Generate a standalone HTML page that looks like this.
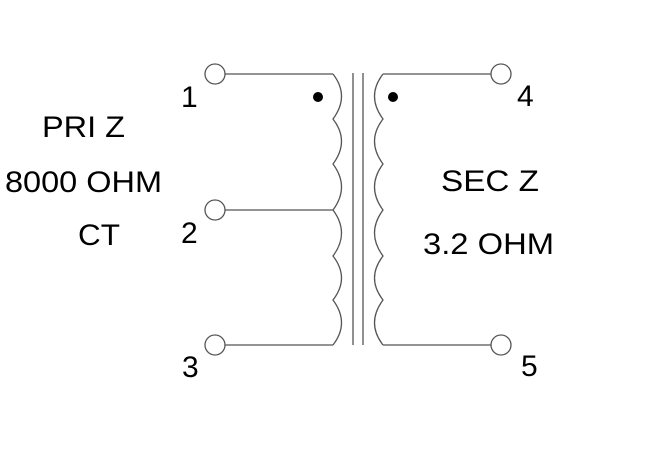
<!DOCTYPE html>
<html><head><style>body{margin:0;background:#fff}svg{display:block}text{font-family:"Liberation Sans",sans-serif;fill:#000}</style></head>
<body>
<svg width="650" height="457" viewBox="0 0 650 457" xmlns="http://www.w3.org/2000/svg">
<g fill="none" stroke="#555" stroke-width="1.3">
<circle cx="215" cy="74" r="10"/>
<circle cx="215" cy="210" r="10"/>
<circle cx="215" cy="345" r="10"/>
<circle cx="501" cy="74" r="10"/>
<circle cx="501" cy="345" r="10"/>
<line x1="225" y1="74" x2="333" y2="74"/>
<line x1="225" y1="210" x2="333" y2="210"/>
<line x1="225" y1="345" x2="333" y2="345"/>
<line x1="383" y1="74" x2="491" y2="74"/>
<line x1="383" y1="345" x2="491" y2="345"/>
<line x1="353" y1="73" x2="353" y2="345"/>
<line x1="363" y1="73" x2="363" y2="345"/>
<path d="M333 74 Q350 96 333 119 Q350 141 333 164 Q350 187 333 210 Q350 233 333 256 Q350 278 333 300 Q350 323 333 345"/>
<path d="M383 74 Q366 96 383 119 Q366 141 383 164 Q366 187 383 210 Q366 233 383 256 Q366 278 383 300 Q366 323 383 345"/>
</g>
<circle cx="318" cy="97" r="5" fill="#000"/>
<circle cx="393" cy="97" r="5" fill="#000"/>
<g font-size="30">
<text x="181" y="107">1</text>
<text x="181" y="243">2</text>
<text x="182" y="377">3</text>
<text x="517" y="106">4</text>
<text x="521" y="376">5</text>
<text x="42" y="137" textLength="83" lengthAdjust="spacingAndGlyphs">PRI Z</text>
<text x="5" y="192" textLength="157" lengthAdjust="spacingAndGlyphs">8000 OHM</text>
<text x="78" y="245" textLength="42" lengthAdjust="spacingAndGlyphs">CT</text>
<text x="441" y="191" textLength="98" lengthAdjust="spacingAndGlyphs">SEC Z</text>
<text x="423" y="254" textLength="131" lengthAdjust="spacingAndGlyphs">3.2 OHM</text>
</g>
</svg>
</body></html>
